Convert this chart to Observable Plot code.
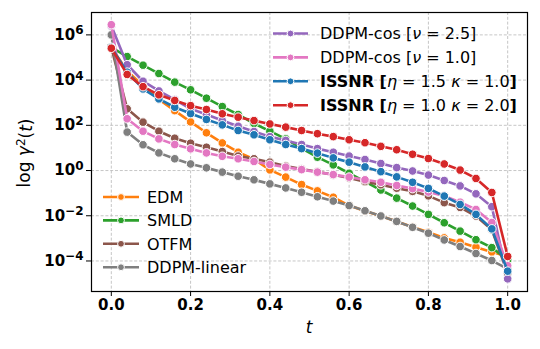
<!DOCTYPE html>
<html><head><meta charset="utf-8">
<script src="https://cdn.jsdelivr.net/npm/d3@7"></script>
<script src="https://cdn.jsdelivr.net/npm/@observablehq/plot@0.6"></script>
<style>
body{margin:0;background:#fff;}
#chart svg{font-family:"DejaVu Sans",sans-serif;}
</style></head><body><div id="chart"></div>
<script>
// time steps
const tValues = [0, 0.04, 0.08, 0.12, 0.16, 0.2, 0.24, 0.28, 0.32, 0.36, 0.4, 0.44, 0.48, 0.52, 0.56, 0.6, 0.64, 0.68, 0.72, 0.76, 0.8, 0.84, 0.88, 0.92, 0.96, 1.0];
// series (drawing order)
const seriesNames = ["EDM", "SMLD", "OTFM", "DDPM-linear", "DDPM-cos [ν = 2.5]", "DDPM-cos [ν = 1.0]", "ISSNR [η = 1.5 κ = 1.0]", "ISSNR [η = 1.0 κ = 2.0]"];
const seriesColors = ["#ff7f0e", "#2ca02c", "#8c564b", "#7f7f7f", "#9467bd", "#e377c2", "#1f77b4", "#d62728"];
// log10 of gamma^2(t)
const logEDM      = [5.45, 4.40, 3.75, 3.15, 2.65, 2.15, 1.67, 1.22, 0.81, 0.50, 0.03, -0.29, -0.62, -0.90, -1.18, -1.55, -1.79, -2.01, -2.25, -2.50, -2.73, -2.98, -3.17, -3.39, -3.60, -3.80];
const logSMLD     = [5.45, 5.04, 4.66, 4.29, 3.91, 3.57, 3.20, 2.83, 2.48, 2.08, 1.74, 1.40, 0.98, 0.59, 0.25, -0.12, -0.49, -0.86, -1.22, -1.57, -1.94, -2.31, -2.68, -3.06, -3.41, -3.95];
const logOTFM     = [5.45, 2.73, 2.14, 1.74, 1.43, 1.21, 1.03, 0.84, 0.64, 0.52, 0.37, 0.20, 0.07, -0.06, -0.19, -0.33, -0.49, -0.63, -0.78, -0.92, -1.12, -1.42, -1.63, -2.01, -2.62, -4.55];
const logDDPMlin  = [6.00, 1.70, 1.14, 0.78, 0.52, 0.29, 0.12, -0.07, -0.25, -0.41, -0.59, -0.77, -0.96, -1.16, -1.35, -1.55, -1.78, -2.01, -2.25, -2.51, -2.77, -3.07, -3.36, -3.67, -3.98, -4.35];
const logCos25    = [6.40, 4.68, 3.95, 3.52, 3.14, 2.73, 2.48, 2.21, 1.96, 1.73, 1.50, 1.33, 1.15, 0.97, 0.81, 0.64, 0.49, 0.31, 0.13, -0.02, -0.20, -0.44, -0.68, -1.03, -1.60, -4.79];
const logCos10    = [6.45, 2.29, 1.74, 1.40, 1.15, 0.96, 0.78, 0.63, 0.52, 0.40, 0.27, 0.15, 0.04, -0.07, -0.18, -0.29, -0.41, -0.52, -0.66, -0.80, -0.95, -1.12, -1.40, -1.72, -2.30, -4.21];
const logISSNR15  = [5.45, 4.35, 3.61, 3.17, 2.80, 2.52, 2.26, 2.02, 1.77, 1.58, 1.36, 1.15, 0.97, 0.77, 0.56, 0.37, 0.16, -0.05, -0.28, -0.52, -0.79, -1.13, -1.50, -1.94, -2.58, -4.45];
const logISSNR10  = [5.41, 4.25, 3.71, 3.35, 3.10, 2.87, 2.70, 2.51, 2.36, 2.21, 2.06, 1.92, 1.77, 1.63, 1.50, 1.36, 1.23, 1.07, 0.92, 0.72, 0.53, 0.29, 0.02, -0.35, -0.97, -3.80];
const seriesLogs = [logEDM, logSMLD, logOTFM, logDDPMlin, logCos25, logCos10, logISSNR15, logISSNR10];
// ticks
const xTicks = [0, 0.2, 0.4, 0.6, 0.8, 1.0];
const xTickLabels = ["0.0", "0.2", "0.4", "0.6", "0.8", "1.0"];
const yTicks = [1e-4, 1e-2, 1, 1e2, 1e4, 1e6];
const yTickExponents = ["−4", "−2", "0", "2", "4", "6"];

// legend label pieces [text, weight, style]
const labelParts = {
  "EDM": [["EDM"]], "SMLD": [["SMLD"]], "OTFM": [["OTFM"]], "DDPM-linear": [["DDPM-linear"]],
  "DDPM-cos [ν = 2.5]": [["DDPM-cos ["], ["ν", "normal", "italic"], [" = 2.5]"]],
  "DDPM-cos [ν = 1.0]": [["DDPM-cos ["], ["ν", "normal", "italic"], [" = 1.0]"]],
  "ISSNR [η = 1.5 κ = 1.0]": [["ISSNR [", "bold"], ["η", "normal", "italic"], [" = 1.5 "], ["κ", "normal", "italic"], [" = 1.0"], ["]", "bold"]],
  "ISSNR [η = 1.0 κ = 2.0]": [["ISSNR [", "bold"], ["η", "normal", "italic"], [" = 1.0 "], ["κ", "normal", "italic"], [" = 2.0"], ["]", "bold"]]
};
const legendUpper = ["DDPM-cos [ν = 2.5]", "DDPM-cos [ν = 1.0]", "ISSNR [η = 1.5 κ = 1.0]", "ISSNR [η = 1.0 κ = 2.0]"];
const legendLower = ["EDM", "SMLD", "OTFM", "DDPM-linear"];

const rows = [];
seriesNames.forEach((name, i) => {
  seriesLogs[i].forEach((lv, j) => rows.push({series: name, t: tValues[j], v: Math.pow(10, lv)}));
});

const gridStyle = {stroke: "#b8b8b8", strokeOpacity: 1, strokeWidth: 0.8, strokeDasharray: "3,1.8"};
const seriesMarks = seriesNames.flatMap(name => {
  const d = rows.filter(r => r.series === name);
  return [
    Plot.line(d, {x: "t", y: "v", stroke: "series", strokeWidth: 2.6}),
    Plot.dot(d, {x: "t", y: "v", fill: "series", stroke: "white", strokeWidth: 1, r: 4.3})
  ];
});

const chart = Plot.plot({
  width: 540, height: 349,
  marginLeft: 91, marginRight: 13, marginTop: 12, marginBottom: 58,
  style: {fontFamily: "DejaVu Sans", background: "white", color: "black"},
  x: {domain: [-0.05, 1.05]},
  y: {type: "log", domain: [Math.pow(10, -5.35), Math.pow(10, 6.99)]},
  color: {domain: seriesNames, range: seriesColors},
  marks: [
    Plot.gridX({ticks: xTicks, ...gridStyle}),
    Plot.gridY({ticks: yTicks, ...gridStyle}),
    ...seriesMarks,
    Plot.frame({stroke: "black", strokeWidth: 1.2}),
    Plot.axisX({ticks: xTicks, tickFormat: (d, i) => xTickLabels[xTicks.indexOf(d)], tickSize: 5, tickPadding: 3, fontSize: 15, fontWeight: "bold", label: null, strokeWidth: 1}),
    Plot.axisY({ticks: yTicks, tickFormat: d => "10^" + yTickExponents[yTicks.indexOf(d)], tickSize: 5, tickPadding: 3, fontSize: 15, fontWeight: "bold", label: null, strokeWidth: 1})
  ]
});
document.getElementById("chart").appendChild(chart);

const svg = d3.select(chart);
// superscript exponents on y tick labels
svg.selectAll('g[aria-label="y-axis tick label"] text').each(function() {
  const txt = d3.select(this).text();
  const m = txt.match(/^10\^(.*)$/);
  if (!m) return;
  const el = d3.select(this);
  el.text("");
  el.append("tspan").text("10");
  el.append("tspan").attr("dy", "-0.45em").attr("font-size", "12px").text(m[1]);
});

// legends
function drawLegend(items, xLine0, xLine1, xText, y0, dy) {
  const g = svg.append("g").attr("text-anchor", "start");
  items.forEach((name, i) => {
    const y = y0 + i * dy;
    const color = seriesColors[seriesNames.indexOf(name)];
    g.append("line").attr("x1", xLine0).attr("x2", xLine1).attr("y1", y).attr("y2", y)
      .attr("stroke", color).attr("stroke-width", 2.6);
    g.append("circle").attr("cx", (xLine0 + xLine1) / 2).attr("cy", y).attr("r", 3.4)
      .attr("fill", color).attr("stroke", "white").attr("stroke-width", 1);
    const t = g.append("text").attr("x", xText).attr("y", y).attr("dy", "0.36em")
      .attr("text-anchor", "start")
      .attr("font-size", 16).attr("fill", "black").style("white-space", "pre");
    labelParts[name].forEach(p => {
      t.append("tspan").attr("font-weight", p[1] || "normal").attr("font-style", p[2] || "normal").text(p[0]);
    });
  });
}
drawLegend(legendUpper, 273, 308, 320, 33.5, 23.9);
drawLegend(legendLower, 103, 139, 147, 197, 23.4);

// axis labels
const xl = svg.append("text").attr("x", 309).attr("y", 333).attr("text-anchor", "middle")
  .attr("font-size", 17).attr("font-style", "italic").attr("fill", "black").text("t");
const yl = svg.append("text").attr("transform", "translate(30,153) rotate(-90)").attr("text-anchor", "middle")
  .attr("font-size", 17).attr("fill", "black").style("white-space", "pre");
yl.append("tspan").text("log ");
yl.append("tspan").attr("font-style", "italic").text("γ");
yl.append("tspan").attr("dy", "-0.45em").attr("font-size", "12px").text("2");
yl.append("tspan").attr("dy", "0.45em").text("(");
yl.append("tspan").attr("font-style", "italic").text("t");
yl.append("tspan").text(")");
</script></body></html>
